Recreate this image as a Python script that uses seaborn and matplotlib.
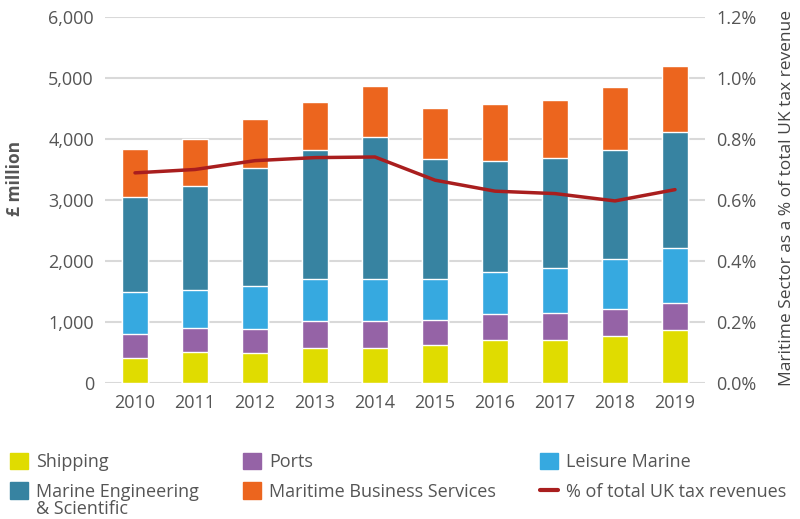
from matplotlib import pyplot as plt
from matplotlib.patches import Patch
from matplotlib.lines import Line2D
from matplotlib.ticker import FuncFormatter
import pandas as pd
import seaborn as sns
import numpy as np

years = ["2010", "2011", "2012", "2013", "2014", "2015", "2016", "2017", "2018", "2019"]
shipping = [405, 503, 487, 569, 569, 618, 700, 700, 766, 864]
ports = [393, 394, 393, 442, 442, 415, 426, 443, 442, 442]
leisure = [689, 623, 710, 689, 689, 667, 689, 737, 820, 902]
engineering = [1557, 1710, 1935, 2115, 2328, 1967, 1819, 1803, 1787, 1902]
business = [786, 765, 798, 785, 836, 836, 935, 951, 1032, 1082]
tax_share = [0.689, 0.700, 0.729, 0.739, 0.741, 0.665, 0.629, 0.621, 0.597, 0.634]

series = ["Shipping", "Ports", "Leisure Marine", "Marine Engineering",
          "Maritime Business Services"]
colors = ["#E0DC00", "#9563A6", "#36A9E0", "#3783A1", "#EC651E"]
line_color = "#A91E1E"
text_color = "#555555"

sns.set_theme(style="white")
plt.rcParams["font.family"] = ["Open Sans", "DejaVu Sans"]

df = pd.DataFrame({"year": years, "Shipping": shipping, "Ports": ports,
                   "Leisure Marine": leisure,
                   "Marine Engineering": engineering,
                   "Maritime Business Services": business})
cum = df[series].cumsum(axis=1)

W, H = 800, 519
fig = plt.figure(figsize=(8, 5.19), dpi=100)
ax = fig.add_axes([105 / W, 1 - 383 / H, 600 / W, 366 / H])

# draw cumulative totals from the top layer down so lower layers overlap
for name, col in reversed(list(zip(series, colors))):
    sns.barplot(x=df["year"], y=cum[name], color=col, width=0.42,
                saturation=1, ax=ax)

ax.set_xlim(-0.5, 9.5)
ax.set_ylim(0, 6000)
ax.set_yticks(np.arange(0, 6001, 1000))
ax.yaxis.set_major_formatter(FuncFormatter(lambda v, p: f"{int(v):,}"))
ax.grid(axis="y", color="#D9D9D9", linewidth=1.5)
ax.set_axisbelow(True)
for s in ax.spines.values():
    s.set_visible(False)
ax.tick_params(axis="both", length=0, labelsize=13, colors=text_color, pad=8)
ax.set_xlabel("")
ax.set_ylabel("")

ax2 = ax.twinx()
sns.lineplot(x=np.arange(len(years)), y=tax_share, color=line_color, linewidth=2.5, ax=ax2)
ax2.set_ylim(0, 1.2)
ax2.set_yticks(np.arange(0, 1.21, 0.2))
ax2.yaxis.set_major_formatter(FuncFormatter(lambda v, p: f"{v:.1f}%"))
for s in ax2.spines.values():
    s.set_visible(False)
ax2.tick_params(axis="y", length=0, labelsize=13, colors=text_color, pad=8)
ax2.grid(False)
ax.set_xlim(-0.5, 9.5)

fig.text(15 / W, 1 - 178 / H, "£ million", rotation=90, ha="center", va="center",
         fontsize=12.5, fontweight="bold", color=text_color)
fig.text(787 / W, 1 - 198 / H, "Maritime Sector as a % of total UK tax revenue",
         rotation=90, ha="center", va="center", fontsize=12.5, color="#444444")

legend_cols = [
    (10, [Patch(color=colors[0]), Patch(color=colors[3])], [series[0], series[3]]),
    (243, [Patch(color=colors[1]), Patch(color=colors[4])], [series[1], series[4]]),
    (540, [Patch(color=colors[2]), Line2D([0], [0], color=line_color, linewidth=3)],
     [series[2], "% of total UK tax revenues"]),
]
for x0, hs, ls in legend_cols:
    leg = fig.legend(hs, ls, loc="upper left", bbox_to_anchor=(x0 / W, 1 - 453 / H),
                     frameon=False, fontsize=13, handlelength=1.0, handleheight=1.0,
                     handletextpad=0.45, labelspacing=0.62, borderpad=0,
                     borderaxespad=0)
    for t in leg.get_texts():
        t.set_color(text_color)

fig.text(36 / W, 1 - 509 / H, "& Scientific", ha="left", va="center",
         fontsize=13, color=text_color)

fig.savefig("out.png", dpi=100)
